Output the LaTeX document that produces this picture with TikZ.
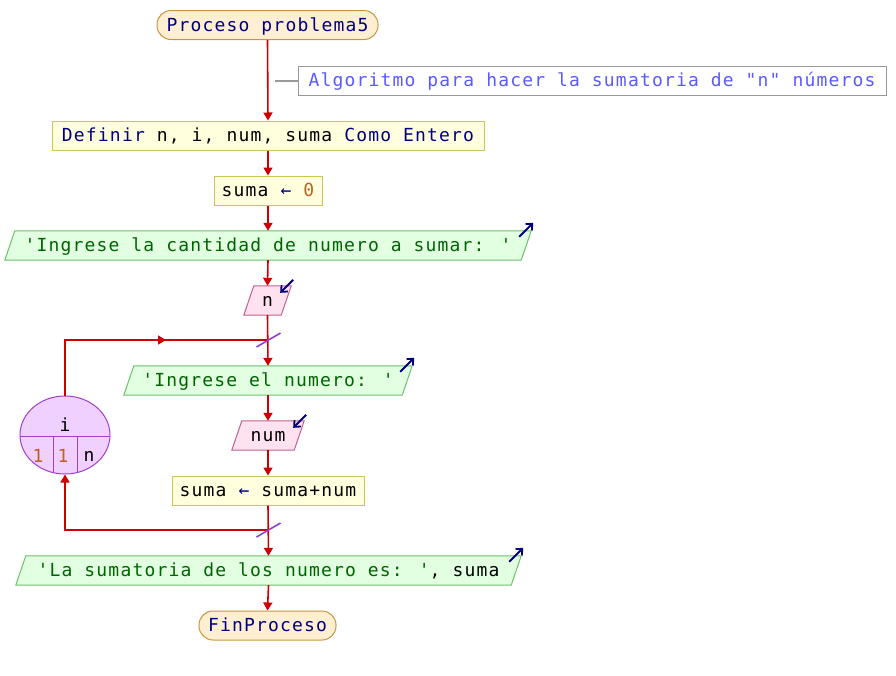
\documentclass[tikz,border=0pt]{standalone}
\usepackage{fontspec}
\usetikzlibrary{arrows.meta,backgrounds,calc,shapes.geometric}
\newfontfamily\pf{DejaVu Sans Mono}[LetterSpace=6.5]
\definecolor{kw}{HTML}{00007F}
\definecolor{strC}{HTML}{006400}
\definecolor{numC}{HTML}{C06020}
\definecolor{termF}{HTML}{FFEFD2}
\definecolor{termB}{HTML}{C8963C}
\definecolor{procF}{HTML}{FFFFDD}
\definecolor{procB}{HTML}{C8C850}
\definecolor{outF}{HTML}{E2FFE2}
\definecolor{outB}{HTML}{6CC06C}
\definecolor{inF}{HTML}{FFE2F0}
\definecolor{inB}{HTML}{C06090}
\definecolor{loopF}{HTML}{F0D0FF}
\definecolor{loopB}{HTML}{A040C8}
\definecolor{flowC}{HTML}{CC0000}
\definecolor{slashC}{HTML}{9040D0}
\definecolor{cmtC}{HTML}{5A5AFF}
\definecolor{cmtB}{HTML}{999999}
\newcommand\parabg[2]{%
  \begin{scope}[on background layer]
  \path[#2] ([xshift=5pt]#1.north west) -- ([xshift=5pt]#1.north east) -- ([xshift=-5pt]#1.south east) -- ([xshift=-5pt]#1.south west) -- cycle;
  \end{scope}}
\tikzset{
  base/.style={inner sep=0pt, text height=16pt, text depth=3.5pt, minimum height=29pt},
  term/.style={base, draw=termB, fill=termF, rounded corners=14pt, line width=1pt, text=kw},
  proc/.style={base, draw=procB, fill=procF, line width=1pt},
  iobox/.style={base},
  flow/.style={draw=flowC, line width=1.6pt},
  tip/.style={-{Triangle[length=8pt,width=9pt]}},
  outpara/.style={draw=outB, fill=outF, line width=1pt},
  inpara/.style={draw=inB, fill=inF, line width=1pt},
  ioarrow/.style={draw=kw, line width=1.8pt, -{Straight Barb[length=5pt,width=9pt]}},
  slash/.style={draw=slashC, line width=1.6pt},
  cmt/.style={base, draw=cmtB, line width=1pt, text=cmtC},
}
\begin{document}
\begin{tikzpicture}[x=1pt,y=-1pt,font={\pf\fontsize{18pt}{21pt}\selectfont}]
\useasboundingbox (0,0) rectangle (896,675);
% nodes
\node[term, minimum width=221pt] (start) at (267.5,25) {Proceso problema5};
\node[cmt, minimum width=588pt] (cm) at (592,80.5) {Algoritmo para hacer la sumatoria de "n" números};
\coordinate (cmo) at (275,80.5);
\node[proc, minimum width=432pt] (def) at (268,135.5) {{\color{kw}Definir} n, i, num, suma {\color{kw}Como Entero}};
\node[proc, minimum width=108pt] (s0) at (268,190.5) {suma {\color{kw}←} {\color{numC}0}};
\node[iobox, minimum width=516pt, text=strC] (p1) at (268,245.5) {'Ingrese la cantidad de numero a sumar: '};
\node[iobox, minimum width=37pt] (n) at (267.5,300.5) {n};
\node[iobox, minimum width=278pt, text=strC] (p2) at (268,380.5) {'Ingrese el numero: '};
\node[iobox, minimum width=62pt] (num) at (268,435.5) {num};
\node[proc, minimum width=192pt] (s1) at (268,490.5) {suma {\color{kw}←} suma+num};
\node[iobox, minimum width=495pt] (p3) at (268.5,570.5) {{\color{strC}'La sumatoria de los numero es: '}, suma};
\node[term, minimum width=137pt] (fin) at (267.5,625.5) {FinProceso};
\node[ellipse, draw=loopB, fill=loopF, line width=1pt, minimum width=90pt, minimum height=78pt, inner sep=0pt] (c) at (65,435) {};
\coordinate (j1) at (267.5,340);
\coordinate (j2) at (267.5,530);
% parallelogram shapes
\parabg{p1}{outpara}
\parabg{p2}{outpara}
\parabg{p3}{outpara}
\parabg{n}{inpara}
\parabg{num}{inpara}
% loop circle contents
\begin{scope}
  \clip (c.center) ellipse [x radius=45pt, y radius=39pt];
  \draw[loopB, line width=1pt] (20,436) -- (110,436);
  \draw[loopB, line width=1pt] (53,436) -- (53,480);
  \draw[loopB, line width=1pt] (77,436) -- (77,480);
\end{scope}
\node (ci) at (65,425) {i};
\node[text=numC] (c1) at (38,456) {1};
\node[text=numC] (c2) at (63,456) {1};
\node (c3) at (89,456) {n};
% comment link
\draw[cmtB, line width=2pt] (cmo) -- (cm.west);
% flow
\draw[flow,tip] (start.south) -- (def.north);
\draw[flow,tip] (def.south) -- (s0.north);
\draw[flow,tip] (s0.south) -- (p1.north);
\draw[flow,tip] (p1.south) -- (n.north);
\draw[flow,tip] (n.south) -- (p2.north);
\draw[flow,tip] (p2.south) -- (num.north);
\draw[flow,tip] (num.south) -- (s1.north);
\draw[flow,tip] (s1.south) -- (p3.north);
\draw[flow,tip] (p3.south) -- (fin.north);
\draw[flow] (c.north) |- (j1);
\draw[flow,tip] (c.north |- j1) -- ++(101,0);
\draw[flow,tip] (j2) -| (c.south);
% slashes
\draw[slash] ($(j1)+(-11,7)$) -- ($(j1)+(13,-7)$);
\draw[slash] ($(j2)+(-11,7)$) -- ($(j2)+(13,-7)$);
% io arrows
\draw[ioarrow] ($([xshift=5pt]p1.north east)+(-12,6)$) -- ++(14,-14);
\draw[ioarrow] ($([xshift=5pt]p2.north east)+(-12,6)$) -- ++(14,-14);
\draw[ioarrow] ($([xshift=5pt]p3.north east)+(-12,6)$) -- ++(14,-14);
\draw[ioarrow] ($([xshift=5pt]n.north east)+(2,-6)$) -- ++(-13,13);
\draw[ioarrow] ($([xshift=5pt]num.north east)+(2,-6)$) -- ++(-13,13);
\end{tikzpicture}
\end{document}
